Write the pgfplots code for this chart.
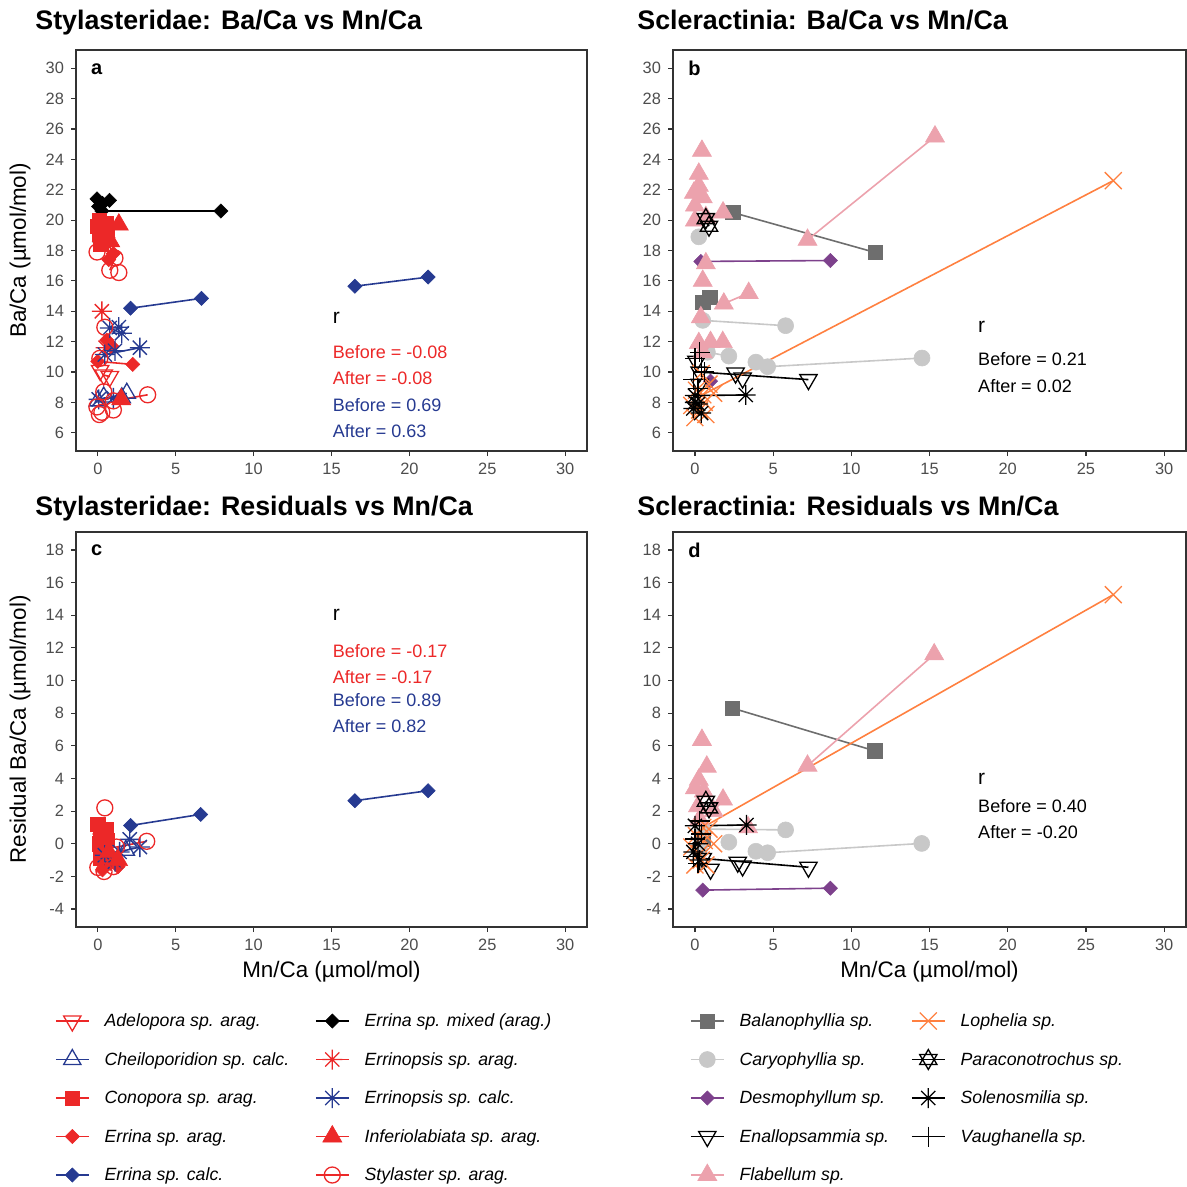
\documentclass[border=0pt]{standalone}
\usepackage{pgfplots}
\pgfplotsset{compat=1.18}
\usepackage{fontspec}
\setmainfont{Liberation Sans}
\setsansfont{Liberation Sans}

\definecolor{cred}{RGB}{236,40,40}
\definecolor{cblue}{RGB}{38,58,145}
\definecolor{cpink}{RGB}{236,162,173}
\definecolor{cdgray}{RGB}{110,110,110}
\definecolor{clgray}{RGB}{200,200,200}
\definecolor{cpurple}{RGB}{125,65,140}
\definecolor{corange}{RGB}{255,128,64}
\definecolor{ctick}{RGB}{77,77,77}
\definecolor{cframe}{RGB}{51,51,51}

\pgfdeclareplotmark{ggast}{%
 \pgfpathmoveto{\pgfqpoint{0pt}{\pgfplotmarksize}}\pgfpathlineto{\pgfqpoint{0pt}{-\pgfplotmarksize}}%
 \pgfpathmoveto{\pgfqpoint{\pgfplotmarksize}{0pt}}\pgfpathlineto{\pgfqpoint{-\pgfplotmarksize}{0pt}}%
 \pgfpathmoveto{\pgfqpoint{.7071\pgfplotmarksize}{.7071\pgfplotmarksize}}\pgfpathlineto{\pgfqpoint{-.7071\pgfplotmarksize}{-.7071\pgfplotmarksize}}%
 \pgfpathmoveto{\pgfqpoint{-.7071\pgfplotmarksize}{.7071\pgfplotmarksize}}\pgfpathlineto{\pgfqpoint{.7071\pgfplotmarksize}{-.7071\pgfplotmarksize}}%
 \pgfusepathqstroke}
\pgfdeclareplotmark{david}{%
 \pgfpathmoveto{\pgfqpoint{0pt}{\pgfplotmarksize}}%
 \pgfpathlineto{\pgfqpoint{.866\pgfplotmarksize}{-.5\pgfplotmarksize}}%
 \pgfpathlineto{\pgfqpoint{-.866\pgfplotmarksize}{-.5\pgfplotmarksize}}\pgfpathclose
 \pgfpathmoveto{\pgfqpoint{0pt}{-\pgfplotmarksize}}%
 \pgfpathlineto{\pgfqpoint{.866\pgfplotmarksize}{.5\pgfplotmarksize}}%
 \pgfpathlineto{\pgfqpoint{-.866\pgfplotmarksize}{.5\pgfplotmarksize}}\pgfpathclose
 \pgfusepathqstroke}
\pgfdeclareplotmark{ggtriup}{%
 \pgfpathmoveto{\pgfqpoint{0pt}{\pgfplotmarksize}}%
 \pgfpathlineto{\pgfqpoint{.866\pgfplotmarksize}{-.5\pgfplotmarksize}}%
 \pgfpathlineto{\pgfqpoint{-.866\pgfplotmarksize}{-.5\pgfplotmarksize}}\pgfpathclose
 \pgfusepathqstroke}
\pgfdeclareplotmark{ggtriupf}{%
 \pgfpathmoveto{\pgfqpoint{0pt}{\pgfplotmarksize}}%
 \pgfpathlineto{\pgfqpoint{.866\pgfplotmarksize}{-.5\pgfplotmarksize}}%
 \pgfpathlineto{\pgfqpoint{-.866\pgfplotmarksize}{-.5\pgfplotmarksize}}\pgfpathclose
 \pgfusepathqfillstroke}
\pgfdeclareplotmark{ggtridown}{%
 \pgfpathmoveto{\pgfqpoint{0pt}{-\pgfplotmarksize}}%
 \pgfpathlineto{\pgfqpoint{.866\pgfplotmarksize}{.5\pgfplotmarksize}}%
 \pgfpathlineto{\pgfqpoint{-.866\pgfplotmarksize}{.5\pgfplotmarksize}}\pgfpathclose
 \pgfusepathqstroke}

\pgfplotsset{
 sp/.style={line width=0.8pt},
 Adel/.style={sp, cred, mark=ggtridown, mark size=5pt, mark options={solid, line width=0.65pt}},
 Chei/.style={sp, cblue, mark=ggtriup, mark size=5pt, mark options={solid, line width=0.65pt}},
 Cono/.style={sp, cred, mark=square*, mark size=3.6pt, mark options={solid, line width=0.3pt}},
 ErrA/.style={sp, cred, mark=square*, mark size=2.5pt, mark options={solid, line width=0.3pt, rotate=45}},
 ErrC/.style={sp, cblue, mark=square*, mark size=2.5pt, mark options={solid, line width=0.3pt, rotate=45}},
 ErrM/.style={sp, black, mark=square*, mark size=2.5pt, mark options={solid, line width=0.3pt, rotate=45}},
 EnpA/.style={sp, cred, mark=ggast, mark size=5pt, mark options={solid, line width=0.65pt}},
 EnpC/.style={sp, cblue, mark=ggast, mark size=5pt, mark options={solid, line width=0.65pt}},
 Infe/.style={sp, cred, mark=ggtriupf, mark size=5.5pt, mark options={solid, line width=0.3pt}},
 Styl/.style={sp, cred, mark=o, mark size=4pt, mark options={solid, line width=0.65pt}},
 Bala/.style={sp, cdgray, mark=square*, mark size=3.6pt, mark options={solid, line width=0.3pt}},
 Cary/.style={sp, clgray, mark=*, mark size=4pt, mark options={solid, line width=0.3pt}},
 Desm/.style={sp, cpurple, mark=square*, mark size=2.5pt, mark options={solid, line width=0.3pt, rotate=45}},
 Enal/.style={sp, black, mark=ggtridown, mark size=5pt, mark options={solid, line width=0.65pt}},
 Flab/.style={sp, cpink, mark=ggtriupf, mark size=5.5pt, mark options={solid, line width=0.3pt}},
 Loph/.style={sp, corange, mark=x, mark size=6pt, mark options={solid, line width=0.65pt}},
 Para/.style={sp, black, mark=david, mark size=5pt, mark options={solid, line width=0.65pt}},
 Sole/.style={sp, black, mark=ggast, mark size=5pt, mark options={solid, line width=0.65pt}},
 Vaug/.style={sp, black, mark=+, mark size=5pt, mark options={solid, line width=0.65pt}},
 panel/.style={
  scale only axis, anchor=north west,
  axis line style={cframe, line width=0.6pt},
  every tick/.style={cframe, line width=0.6pt},
  tick align=outside, major tick length=2.5pt,
  xtick pos=lower, ytick pos=left,
  xmin=-1.4, xmax=31.4,
  xtick={0,5,10,15,20,25,30},
  xticklabels={0,5,10,15,20,25,30},
  ticklabel style={font=\fontsize{8.2}{9.8}\selectfont, text=ctick},
  label style={font=\fontsize{11.2}{13.4}\selectfont, text=black},
  unbounded coords=jump,
  ylabel style={at={(axis description cs:-0.1096,0.5)}, anchor=center},
  xlabel style={at={(axis description cs:0.5,-0.114)}, anchor=center},
 },
 toppanel/.style={panel, ymin=4.8, ymax=31.2,
  ytick={6,8,...,30}, yticklabels={6,8,10,12,14,16,18,20,22,24,26,28,30}},
 botpanel/.style={panel, ymin=-5.1, ymax=19.1,
  ytick={-4,-2,...,18}, yticklabels={-4,-2,0,2,4,6,8,10,12,14,16,18}},
 legcol/.style={hide axis, scale only axis, width=10pt, height=10pt, anchor=north west,
  xmin=0, xmax=1, ymin=0, ymax=1,
  legend cell align=left,
  legend style={at={(0,1)}, anchor=north west, draw=none, fill=none, inner sep=0pt, outer sep=0pt,
   row sep=0pt, column sep=7.5pt, font=\fontsize{8.85}{10.5}\selectfont\itshape,
   nodes={inner sep=0pt, outer sep=0pt, text height=12.6pt, text depth=6.65pt, text=black}},
  legend image code/.code={\draw[mark repeat=2,mark phase=2] plot coordinates {(0pt,0pt) (8.25pt,0pt) (16.5pt,0pt)};}},
}

\newcommand{\ann}{\fontsize{9}{10.8}\selectfont}
\newcommand{\rr}{\fontsize{10.5}{12.5}\selectfont}
\newcommand{\ttl}{\fontsize{13.4}{16}\selectfont\bfseries}

\begin{document}
\begin{tikzpicture}
\path[use as bounding box] (0pt,0pt) rectangle (593.5pt,-593.5pt);

% ---------------- Panel a ----------------
\begin{axis}[toppanel, at={(38pt,-25pt)}, width=255.5pt, height=200.5pt,
  ylabel={Ba/Ca (µmol/mol)}]
\addplot[Adel] coordinates {(0.38,9.8) (0.77,9.7) (nan,nan) (0.15,10.1)};
\addplot[Chei] coordinates {(0.0,8.1) (1.86,8.6) (nan,nan) (0.38,8.35) (nan,nan) (1.54,8.3)};
\addplot[ErrM] coordinates {(0.26,20.6) (7.9,20.6) (nan,nan) (0.2,21.0) (0.1,18.6) (nan,nan) (-0.05,21.4) (nan,nan) (0.75,21.3) (nan,nan) (0.3,21.1) (nan,nan) (0.05,20.9)};
\addplot[Cono] coordinates {(0.1,20.0) (0.3,19.5) (nan,nan) (0.1,19.1) (nan,nan) (0.35,18.8) (nan,nan) (0.5,19.8) (nan,nan) (0.2,18.4) (nan,nan) (0.6,19.3) (nan,nan) (0.0,19.6)};
\addplot[ErrA] coordinates {(0.4,18.9) (1.0,17.8) (nan,nan) (0.7,17.4) (nan,nan) (0.58,12.1) (0.9,11.7) (nan,nan) (0.0,10.7) (2.24,10.5)};
\addplot[ErrC] coordinates {(2.1,14.2) (6.65,14.85) (nan,nan) (16.5,15.65) (21.2,16.25)};
\addplot[EnpA] coordinates {(0.26,14.0) (nan,nan) (0.5,11.6)};
\addplot[EnpC] coordinates {(0.77,12.9) (1.54,12.55) (nan,nan) (1.35,12.95) (nan,nan) (0.45,11.15) (2.7,11.6) (nan,nan) (1.1,11.4) (nan,nan) (0.06,8.2) (1.0,8.3)};
\addplot[Infe] coordinates {(1.35,19.7) (0.5,19.2) (nan,nan) (0.8,18.6) (nan,nan) (1.5,8.2)};
\addplot[Styl] coordinates {(-0.05,17.9) (nan,nan) (1.1,17.5) (0.77,16.7) (nan,nan) (1.35,16.55) (nan,nan) (0.45,12.95) (nan,nan) (0.13,10.9) (nan,nan) (0.38,8.7) (nan,nan) (1.0,8.1) (3.2,8.5) (nan,nan) (-0.06,7.7) (nan,nan) (0.26,7.35) (nan,nan) (1.0,7.5) (nan,nan) (0.1,7.2)};
\node[anchor=west, inner sep=0pt, font=\rr] at (axis cs:15.06,13.54) {r};
\node[anchor=west, inner sep=0pt, font=\ann, text=cred] at (axis cs:15.06,11.31) {Before = -0.08};
\node[anchor=west, inner sep=0pt, font=\ann, text=cred] at (axis cs:15.06,9.6) {After = -0.08};
\node[anchor=west, inner sep=0pt, font=\ann, text=cblue] at (axis cs:15.06,7.84) {Before = 0.69};
\node[anchor=west, inner sep=0pt, font=\ann, text=cblue] at (axis cs:15.06,6.13) {After = 0.63};
\node[anchor=west, inner sep=0pt, font=\fontsize{10}{12}\selectfont\bfseries] at (rel axis cs:0.029,0.953) {a};
\end{axis}

% ---------------- Panel b ----------------
\begin{axis}[toppanel, at={(336.5pt,-25pt)}, width=256.5pt, height=200.5pt]
\addplot[Bala] coordinates {(2.42,20.5) (11.53,17.87) (nan,nan) (0.5,14.6) (0.96,14.9)};
\addplot[Cary] coordinates {(0.25,18.9) (nan,nan) (0.5,13.4) (5.8,13.05) (nan,nan) (0.8,11.3) (2.17,11.05) (nan,nan) (3.9,10.65) (nan,nan) (4.65,10.35) (14.52,10.92)};
\addplot[Desm] coordinates {(0.38,17.28) (8.66,17.34) (nan,nan) (1.0,9.4)};
\addplot[Enal] coordinates {(0.3,10.0) (7.26,9.5) (nan,nan) (2.6,9.93) (nan,nan) (3.05,9.6) (nan,nan) (0.1,10.7) (nan,nan) (0.3,9.2)};
\addplot[Flab] coordinates {(7.2,18.7) (15.35,25.5) (nan,nan) (0.45,24.56) (nan,nan) (0.25,23.05) (nan,nan) (0.25,22.26) (nan,nan) (-0.06,21.8) (nan,nan) (0.5,21.5) (nan,nan) (0,20.95) (nan,nan) (0,19.97) (nan,nan) (0.7,20.2) (1.8,20.5) (nan,nan) (0.7,17.15) (nan,nan) (0.5,16.0) (nan,nan) (1.85,14.5) (3.44,15.2) (nan,nan) (0.38,13.6) (nan,nan) (0.25,11.9) (nan,nan) (1.0,11.97) (nan,nan) (1.78,11.97) (nan,nan) (0.5,11.3)};
\addplot[Loph] coordinates {(0.5,8.5) (26.75,22.6) (nan,nan) (0.0,7.0) (nan,nan) (0.3,7.5) (nan,nan) (0.6,8.0) (nan,nan) (0.1,8.8) (nan,nan) (0.9,9.2) (nan,nan) (1.2,8.6) (nan,nan) (0.4,9.9) (nan,nan) (-0.2,7.8) (nan,nan) (0.7,7.2)};
\addplot[Para] coordinates {(0.7,20.1) (0.9,19.6)};
\addplot[Sole] coordinates {(0.0,8.45) (3.25,8.49) (nan,nan) (-0.1,7.6) (nan,nan) (0.2,7.9) (nan,nan) (0.4,7.3) (nan,nan) (0.0,8.0)};
\addplot[Vaug] coordinates {(0.0,10.9) (nan,nan) (0.3,11.3) (nan,nan) (-0.1,9.5) (nan,nan) (0.4,10.3) (nan,nan) (0.2,8.9) (nan,nan) (0.6,10.0)};
\node[anchor=west, inner sep=0pt, font=\rr] at (axis cs:18.09,13.0) {r};
\node[anchor=west, inner sep=0pt, font=\ann] at (axis cs:18.09,10.85) {Before = 0.21};
\node[anchor=west, inner sep=0pt, font=\ann] at (axis cs:18.09,9.08) {After = 0.02};
\node[anchor=west, inner sep=0pt, font=\fontsize{10}{12}\selectfont\bfseries] at (rel axis cs:0.029,0.953) {b};
\end{axis}

% ---------------- Panel c ----------------
\begin{axis}[botpanel, at={(38pt,-266pt)}, width=255.5pt, height=197.5pt,
  ylabel={Residual Ba/Ca (µmol/mol)}, xlabel={Mn/Ca (µmol/mol)}]
\addplot[Adel] coordinates {(0.4,-0.3) (nan,nan) (0.8,-0.5)};
\addplot[Chei] coordinates {(0.5,-0.9) (1.8,-0.4)};
\addplot[Cono] coordinates {(0.0,1.2) (0.2,0.5) (nan,nan) (0.1,0.0) (nan,nan) (0.35,-0.4) (nan,nan) (0.5,0.9) (nan,nan) (0.2,-0.9) (nan,nan) (0.6,0.2)};
\addplot[ErrA] coordinates {(0.3,-1.6) (nan,nan) (0.8,-1.2) (1.3,-1.4) (nan,nan) (0.6,0.6)};
\addplot[ErrC] coordinates {(2.1,1.12) (6.6,1.8) (nan,nan) (16.5,2.64) (21.2,3.25)};
\addplot[EnpA] coordinates {(0.3,0.6)};
\addplot[EnpC] coordinates {(0.45,-0.7) (2.7,-0.2) (nan,nan) (1.1,-1.1) (nan,nan) (2.05,0.27) (nan,nan) (1.4,-0.5)};
\addplot[Infe] coordinates {(1.3,-1.0) (nan,nan) (0.7,-0.5) (nan,nan) (0.4,0.3)};
\addplot[Styl] coordinates {(0.45,2.2) (nan,nan) (1.2,-0.2) (3.14,0.15) (nan,nan) (0.0,-1.45) (nan,nan) (0.4,-1.7) (nan,nan) (1.0,-1.4)};
\node[anchor=west, inner sep=0pt, font=\rr] at (axis cs:15.06,14.04) {r};
\node[anchor=west, inner sep=0pt, font=\ann, text=cred] at (axis cs:15.06,11.78) {Before = -0.17};
\node[anchor=west, inner sep=0pt, font=\ann, text=cred] at (axis cs:15.06,10.2) {After = -0.17};
\node[anchor=west, inner sep=0pt, font=\ann, text=cblue] at (axis cs:15.06,8.8) {Before = 0.89};
\node[anchor=west, inner sep=0pt, font=\ann, text=cblue] at (axis cs:15.06,7.21) {After = 0.82};
\node[anchor=west, inner sep=0pt, font=\fontsize{10}{12}\selectfont\bfseries] at (rel axis cs:0.029,0.954) {c};
\end{axis}

% ---------------- Panel d ----------------
\begin{axis}[botpanel, at={(336.5pt,-266pt)}, width=256.5pt, height=197.5pt,
  xlabel={Mn/Ca (µmol/mol)}]
\addplot[Bala] coordinates {(2.4,8.31) (11.5,5.69) (nan,nan) (0.5,0.3)};
\addplot[Cary] coordinates {(0.5,0.9) (5.8,0.85) (nan,nan) (2.17,0.1) (nan,nan) (3.9,-0.46) (nan,nan) (4.65,-0.55) (14.5,0.02) (nan,nan) (0.3,-0.3)};
\addplot[Desm] coordinates {(0.5,-2.84) (8.66,-2.72)};
\addplot[Enal] coordinates {(0.5,-0.9) (7.26,-1.44) (nan,nan) (2.74,-1.13) (nan,nan) (3.05,-1.36) (nan,nan) (1.0,-1.56)};
\addplot[Flab] coordinates {(7.2,4.78) (15.3,11.6) (nan,nan) (0.45,6.36) (nan,nan) (0.76,4.72) (nan,nan) (0.25,3.92) (nan,nan) (0.0,3.4) (nan,nan) (0.57,3.2) (nan,nan) (1.2,2.0) (1.8,2.7) (nan,nan) (0.2,2.3) (nan,nan) (0.3,1.5) (nan,nan) (3.4,1.0)};
\addplot[Loph] coordinates {(0.5,1.0) (26.75,15.26) (nan,nan) (0.0,-1.3) (nan,nan) (0.3,-0.6) (nan,nan) (0.6,0.2) (nan,nan) (0.1,0.5) (nan,nan) (0.9,0.9) (nan,nan) (1.2,0.0) (nan,nan) (0.4,-1.0) (nan,nan) (-0.2,-0.2) (nan,nan) (0.7,-1.3)};
\addplot[Para] coordinates {(0.7,2.6) (0.9,2.2)};
\addplot[Sole] coordinates {(0.0,1.1) (3.3,1.15) (nan,nan) (-0.1,-0.5) (nan,nan) (0.2,0.0) (nan,nan) (0.3,-1.0)};
\addplot[Vaug] coordinates {(0.0,0.3) (nan,nan) (0.3,1.4) (nan,nan) (-0.1,-0.8) (nan,nan) (0.4,0.6) (nan,nan) (0.2,-1.2)};
\node[anchor=west, inner sep=0pt, font=\rr] at (axis cs:18.09,3.98) {r};
\node[anchor=west, inner sep=0pt, font=\ann] at (axis cs:18.09,2.28) {Before = 0.40};
\node[anchor=west, inner sep=0pt, font=\ann] at (axis cs:18.09,0.69) {After = -0.20};
\node[anchor=west, inner sep=0pt, font=\fontsize{10}{12}\selectfont\bfseries] at (rel axis cs:0.029,0.954) {d};
\end{axis}

% ---------------- Titles ----------------
\node[anchor=base west, inner sep=0pt, font=\ttl] at (17.5pt,-14.75pt) {Stylasteridae: Ba/Ca vs Mn/Ca};
\node[anchor=base west, inner sep=0pt, font=\ttl] at (318.5pt,-14.75pt) {Scleractinia: Ba/Ca vs Mn/Ca};
\node[anchor=base west, inner sep=0pt, font=\ttl] at (17.5pt,-257.5pt) {Stylasteridae: Residuals vs Mn/Ca};
\node[anchor=base west, inner sep=0pt, font=\ttl] at (318.5pt,-257.5pt) {Scleractinia: Residuals vs Mn/Ca};

% ---------------- Legends ----------------
\begin{axis}[legcol, at={(27.5pt,-500.875pt)}]
\addlegendimage{Adel}\addlegendentry{Adelopora sp. arag.}
\addlegendimage{Chei}\addlegendentry{Cheiloporidion sp. calc.}
\addlegendimage{Cono}\addlegendentry{Conopora sp. arag.}
\addlegendimage{ErrA}\addlegendentry{Errina sp. arag.}
\addlegendimage{ErrC}\addlegendentry{Errina sp. calc.}
\end{axis}
\begin{axis}[legcol, at={(157.5pt,-500.875pt)}]
\addlegendimage{ErrM}\addlegendentry{Errina sp. mixed (arag.)}
\addlegendimage{EnpA}\addlegendentry{Errinopsis sp. arag.}
\addlegendimage{EnpC}\addlegendentry{Errinopsis sp. calc.}
\addlegendimage{Infe}\addlegendentry{Inferiolabiata sp. arag.}
\addlegendimage{Styl}\addlegendentry{Stylaster sp. arag.}
\end{axis}
\begin{axis}[legcol, at={(345pt,-500.875pt)}]
\addlegendimage{Bala}\addlegendentry{Balanophyllia sp.}
\addlegendimage{Cary}\addlegendentry{Caryophyllia sp.}
\addlegendimage{Desm}\addlegendentry{Desmophyllum sp.}
\addlegendimage{Enal}\addlegendentry{Enallopsammia sp.}
\addlegendimage{Flab}\addlegendentry{Flabellum sp.}
\end{axis}
\begin{axis}[legcol, at={(455.5pt,-500.875pt)}]
\addlegendimage{Loph}\addlegendentry{Lophelia sp.}
\addlegendimage{Para}\addlegendentry{Paraconotrochus sp.}
\addlegendimage{Sole}\addlegendentry{Solenosmilia sp.}
\addlegendimage{Vaug}\addlegendentry{Vaughanella sp.}
\end{axis}
\end{tikzpicture}
\end{document}
